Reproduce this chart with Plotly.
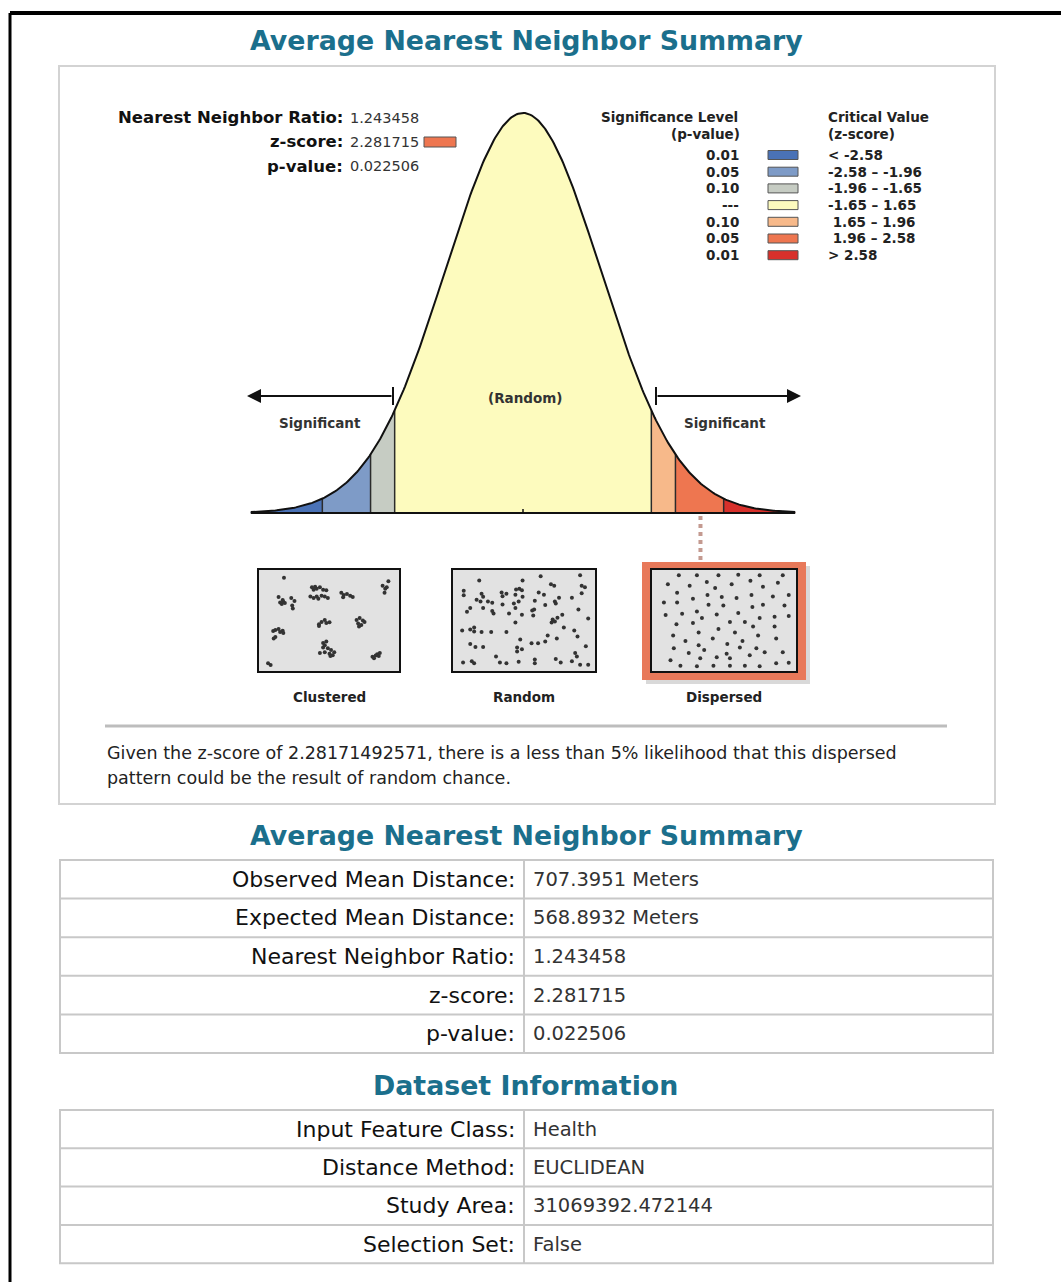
import numpy as np
import plotly.graph_objects as go

W, H = 1061, 1282
FONT = "DejaVu Sans"

# ---------------- data ----------------
critical_values = [-2.58, -1.96, -1.65, 1.65, 1.96, 2.58]
band_colors = ["#4a72b6", "#7e9bc7", "#c6ccc3", "#fdfbbe", "#f7b98a", "#ee7650", "#d8302b"]
p_levels = ["0.01", "0.05", "0.10", "---", "0.10", "0.05", "0.01"]
z_ranges = ["< -2.58", "-2.58 – -1.96", "-1.96 – -1.65", "-1.65 – 1.65",
            " 1.65 – 1.96", " 1.96 – 2.58", "> 2.58"]

nn_ratio_text = "1.243458"
z_score = 2.281715
z_score_text = "2.281715"
p_value_text = "0.022506"
summary_sentence = ["Given the z-score of 2.28171492571, there is a less than 5% likelihood that this dispersed",
                    "pattern could be the result of random chance."]

summary_labels = ["Observed Mean Distance:", "Expected Mean Distance:", "Nearest Neighbor Ratio:",
                  "z-score:", "p-value:"]
summary_values = ["707.3951 Meters", "568.8932 Meters", "1.243458", "2.281715", "0.022506"]
dataset_labels = ["Input Feature Class:", "Distance Method:", "Study Area:", "Selection Set:"]
dataset_values = ["Health", "EUCLIDEAN", "31069392.472144", "False"]

pattern_names = ["Clustered", "Random", "Dispersed"]

clustered_x = [14.9, 10.7, 11.9, 13.2, 14.4, 15.6, 13.9, 20.6, 21.3, 21.8, 23.1,
               36.7, 39.2, 38.0, 40.4, 42.9, 45.4, 47.9, 35.5, 38.0, 40.4, 41.7, 44.2, 46.7, 49.1,
               59.6, 61.5, 64.0, 66.5, 68.5, 61.0,
               91.8, 93.8, 95.0, 96.3, 93.3,
               42.2, 44.2, 46.7, 47.9, 50.4, 42.2,
               71.5, 73.9, 76.4, 72.7, 75.2, 73.4, 77.7,
               6.5, 8.2, 10.7, 11.9, 13.9, 14.4, 6.9, 8.2,
               45.4, 46.7, 47.9, 45.4, 49.1, 51.6, 54.1, 50.4, 52.9, 42.9, 46.7, 51.1,
               83.9, 85.1, 87.6, 88.8, 89.6, 86.4,
               2.5, 4.5]
clustered_y = [4.2, 24.8, 30.6, 32.3, 30.0, 31.3, 28.1, 25.8, 33.9, 37.1, 29.0,
               14.5, 13.9, 17.1, 16.1, 14.5, 17.1, 17.7, 24.2, 25.8, 24.2, 26.8, 23.5, 24.2, 25.8,
               20.3, 22.6, 21.6, 23.5, 24.8, 25.2,
               12.9, 16.1, 14.5, 8.1, 20.3,
               53.9, 51.6, 49.4, 52.6, 51.9, 55.8,
               49.4, 47.4, 50.0, 53.2, 54.8, 56.5, 51.6,
               61.3, 60.3, 59.0, 62.3, 61.0, 63.5, 69.4, 67.7,
               74.2, 76.5, 72.6, 79.0, 79.7, 81.6, 83.9, 85.5, 87.1, 84.8, 83.9, 88.1,
               88.7, 90.3, 86.1, 88.1, 84.8, 87.4,
               95.8, 97.7]

random_x = [15.6, 48.9, 62.8, 93.1, 70.7, 73.2, 94.3, 96.8,
            3.7, 3.7, 17.4, 18.6, 32.8, 36.5, 33.5, 43.9, 46.4, 48.4, 43.4, 48.9, 61.3, 65.3, 86.8, 94.3,
            13.6, 16.6, 22.3, 25.6, 33.5, 42.2, 45.9, 43.4, 58.3, 66.3, 73.7, 74.4, 76.9, 8.7, 18.6,
            6.2, 25.6, 26.6, 38.5, 48.4, 56.3, 57.8, 57.1, 72.0, 75.7, 79.4, 91.8, 99.3,
            43.4, 71.2, 73.7, 80.6, 88.6, 2.5, 8.7, 11.7, 11.7, 17.4, 24.8, 36.5, 68.2, 91.1,
            47.1, 8.7, 12.7, 18.6, 44.7, 48.4, 44.7, 55.8, 60.8, 66.3, 75.2, 97.5,
            28.5, 58.3, 74.4, 89.3, 90.6, 3.2, 9.9, 11.7, 31.5, 36.5, 45.9, 58.3, 78.2, 86.8, 93.1, 99.3]
random_y = [7.3, 7.3, 2.6, 1.6, 11.2, 12.8, 12.8, 14.4,
            18.2, 23.0, 21.4, 24.6, 20.1, 21.4, 24.0, 16.9, 16.0, 17.6, 22.4, 24.6, 20.1, 22.4, 25.6, 20.8,
            27.8, 29.7, 29.7, 31.0, 32.9, 31.9, 29.7, 36.7, 28.8, 33.5, 29.7, 31.9, 25.6, 36.7, 36.7,
            40.6, 39.9, 42.5, 42.5, 43.8, 39.3, 38.3, 44.7, 48.9, 47.0, 43.8, 38.3, 47.9,
            52.1, 52.1, 51.1, 57.5, 60.7, 60.7, 59.7, 57.5, 61.7, 62.3, 62.3, 62.3, 66.1, 67.1,
            70.3, 75.1, 78.3, 78.3, 78.9, 80.8, 83.1, 74.4, 74.4, 72.5, 69.3, 77.6,
            88.5, 91.7, 91.1, 84.7, 88.5, 94.9, 93.6, 95.8, 94.9, 95.8, 94.2, 95.8, 94.9, 93.6, 97.4, 97.4]

dispersed_x = [15.8, 29.5, 45.8, 60.8, 77.0, 94.5,
               7.5, 24.0, 37.0, 43.3, 55.8, 70.0, 79.5, 90.8,
               14.5, 26.5, 37.5, 48.3, 59.5, 70.8, 87.0, 99.0,
               4.5, 14.5, 29.5, 38.3, 49.5, 60.8, 71.5, 79.5, 95.8,
               5.8, 18.3, 33.3, 44.5, 54.5, 65.8, 77.0, 88.3, 99.0,
               14.0, 26.5, 45.8, 58.3, 72.0, 88.3, 11.5,
               20.8, 30.8, 30.8, 41.5, 52.5, 64.0, 75.8, 89.5, 62.0,
               12.0, 23.3, 35.0, 44.5, 74.5, 80.8, 94.5, 69.5, 52.0,
               9.5, 32.0, 54.5, 17.0, 29.5, 42.0, 54.5, 65.8, 77.0, 89.5, 99.0]
dispersed_y = [1.6, 1.6, 1.6, 1.0, 1.6, 1.6,
               11.3, 12.9, 8.7, 15.2, 11.3, 7.4, 13.9, 9.7,
               20.3, 26.8, 22.6, 24.8, 25.8, 22.6, 24.2, 22.6,
               30.6, 30.6, 40.3, 33.2, 33.9, 41.9, 35.5, 33.2, 33.9,
               44.2, 42.9, 47.4, 43.5, 51.6, 51.6, 47.4, 46.1, 45.2,
               53.9, 52.6, 59.0, 62.9, 56.5, 56.5, 66.1,
               71.9, 62.9, 76.5, 69.4, 75.2, 71.9, 66.1, 69.4, 79.0,
               79.7, 84.8, 81.6, 89.4, 79.7, 83.9, 83.9, 87.1, 85.5,
               92.6, 90.3, 90.3, 98.4, 99.0, 98.4, 98.4, 98.4, 99.0, 95.8, 95.2]


# ---------------- helpers ----------------
def X(p):
    return p / W


def Y(p):
    return 1 - p / H


annotations = []
shapes = []


def txt(x, y, s, size, bold=False, anchor="left", color="#1a1a1a", family=FONT, yanchor="middle"):
    annotations.append(dict(x=X(x), y=Y(y), xref="paper", yref="paper", text=s, showarrow=False,
                            xanchor=anchor, yanchor=yanchor,
                            font=dict(family=family, size=size, color=color,
                                      weight=700 if bold else 400)))


def rect(x0, y0, x1, y1, fill=None, line="#000", width=1, layer="below"):
    shapes.append(dict(type="rect", xref="paper", yref="paper", x0=X(x0), x1=X(x1), y0=Y(y0), y1=Y(y1),
                       fillcolor=fill if fill else "rgba(0,0,0,0)",
                       line=dict(color=line, width=width) if width else dict(width=0),
                       layer=layer))


def hline(x0, x1, y, color, width, layer="below"):
    shapes.append(dict(type="line", xref="paper", yref="paper", x0=X(x0), x1=X(x1), y0=Y(y), y1=Y(y),
                       line=dict(color=color, width=width), layer=layer))


def vline(x, y0, y1, color, width, layer="above"):
    shapes.append(dict(type="line", xref="paper", yref="paper", x0=X(x), x1=X(x), y0=Y(y0), y1=Y(y1),
                       line=dict(color=color, width=width), layer=layer))


fig = go.Figure()

# ---------------- outer frame ----------------
hline(10, 1061, 13, "#000", 4, layer="above")
vline(10, 13, 1282, "#000", 3)

TEAL = "#1b6f8c"

# ---------------- panel 1 ----------------
txt(526, 41, "Average Nearest Neighbor Summary", 26.8, bold=True, anchor="center", color=TEAL)
rect(59, 66, 995, 804, fill="#ffffff", line="#d3d3d3", width=2)

# stats block
LBL = 16.5
VAL = 14.5
txt(345, 118, "Nearest Neighbor Ratio:", LBL, bold=True, anchor="right", color="#111")
txt(348, 118, nn_ratio_text, VAL, anchor="left", color="#333")
txt(345, 142, "z-score:", LBL, bold=True, anchor="right", color="#111")
txt(348, 142, z_score_text, VAL, anchor="left", color="#333")
txt(345, 166, "p-value:", LBL, bold=True, anchor="right", color="#111")
txt(348, 166, p_value_text, VAL, anchor="left", color="#333")
z_band = int(np.searchsorted(critical_values, z_score))
rect(424, 137, 456, 147, fill=band_colors[z_band], line="#555", width=1, layer="above")

# legend
LG = 13.5
txt(740, 117, "Significance Level", LG, bold=True, anchor="right", color="#222")
txt(742, 134, "(p-value)", LG, bold=True, anchor="right", color="#222")
txt(826, 117, "Critical Value", LG, bold=True, anchor="left", color="#222")
txt(826, 134, "(z-score)", LG, bold=True, anchor="left", color="#222")
for i, (pl, zr, col) in enumerate(zip(p_levels, z_ranges, band_colors)):
    yy = 155 + i * 16.7
    txt(741, yy, pl, LG, bold=True, anchor="right", color="#222")
    rect(768, yy - 4.5, 798, yy + 4.5, fill=col, line="#555", width=1, layer="above")
    txt(826, yy, zr, LG, bold=True, anchor="left", color="#222")

# ---------------- bell curve ----------------
def pdf(z):
    return np.exp(-0.5 * np.asarray(z) ** 2) / np.sqrt(2 * np.pi)


zmin, zmax = -3.5, 3.5
edges = [zmin] + critical_values + [zmax]
for a, b, col in zip(edges[:-1], edges[1:], band_colors):
    zz = np.linspace(a, b, 80)
    xs = list(zz) + [b, a]
    ys = list(pdf(zz)) + [0, 0]
    fig.add_trace(go.Scatter(x=xs, y=ys, fill="toself", fillcolor=col, mode="lines",
                             line=dict(width=0), hoverinfo="skip", showlegend=False,
                             xaxis="x", yaxis="y"))
for cv in critical_values:
    fig.add_trace(go.Scatter(x=[cv, cv], y=[0, float(pdf(cv))], mode="lines",
                             line=dict(color="#2b2b2b", width=1.5), hoverinfo="skip",
                             showlegend=False, xaxis="x", yaxis="y"))
zc = np.linspace(zmin, zmax, 400)
fig.add_trace(go.Scatter(x=zc, y=pdf(zc), mode="lines", line=dict(color="#111", width=2),
                         hoverinfo="skip", showlegend=False, xaxis="x", yaxis="y"))
fig.add_trace(go.Scatter(x=[zmin, zmax], y=[0, 0], mode="lines", line=dict(color="#111", width=2),
                         hoverinfo="skip", showlegend=False, xaxis="x", yaxis="y"))
fig.add_trace(go.Scatter(x=[0, 0], y=[0, 0.004], mode="lines", line=dict(color="#111", width=1.5),
                         hoverinfo="skip", showlegend=False, xaxis="x", yaxis="y"))

# dotted connector from the z-score to the pattern
shapes.append(dict(type="line", xref="x", yref="paper", x0=z_score, x1=z_score, y0=Y(516), y1=Y(562),
                   line=dict(color="#c49a90", width=4, dash="dot"), layer="above"))

# arrows & labels
annotations.append(dict(x=X(247), y=Y(396), xref="paper", yref="paper", text="", showarrow=True,
                        ax=146, ay=0, axref="pixel", ayref="pixel", arrowhead=2, arrowsize=1.4,
                        arrowwidth=2, arrowcolor="#111"))
annotations.append(dict(x=X(801), y=Y(396), xref="paper", yref="paper", text="", showarrow=True,
                        ax=-145, ay=0, axref="pixel", ayref="pixel", arrowhead=2, arrowsize=1.4,
                        arrowwidth=2, arrowcolor="#111"))
vline(393, 387, 405, "#111", 2)
vline(656, 387, 405, "#111", 2)
txt(525, 398, "(Random)", 13.5, bold=True, anchor="center", color="#333")
txt(320, 423, "Significant", 13.5, bold=True, anchor="center", color="#333")
txt(725, 423, "Significant", 13.5, bold=True, anchor="center", color="#333")

# ---------------- pattern boxes ----------------
rect(646, 566, 810, 684, fill="#d9d9d9", width=0)
rect(642, 562, 806, 680, fill="#e8795a", width=0)
boxes = [(258, 400), (452, 596), (651, 797)]
for (x0, x1) in boxes:
    rect(x0, 569, x1, 672, fill="#e2e2e2", line="#111", width=2)
for (x0, x1), name in zip(boxes, pattern_names):
    txt((x0 + x1) / 2, 697, name, 13.5, bold=True, anchor="center", color="#222")

dot_sets = [(clustered_x, clustered_y), (random_x, random_y), (dispersed_x, dispersed_y)]
for k, ((x0, x1), (dx, dy)) in enumerate(zip(boxes, dot_sets)):
    ax_id = str(k + 2)
    fig.add_trace(go.Scatter(x=dx, y=dy, mode="markers",
                             marker=dict(size=4, color="#333"),
                             hoverinfo="skip", showlegend=False,
                             xaxis="x" + ax_id, yaxis="y" + ax_id))

# ---------------- sentence ----------------
hline(105, 947, 726, "#bdbdbd", 3)
txt(105, 753, summary_sentence[0], 17.5, anchor="left", color="#222")
txt(105, 778, summary_sentence[1], 17.5, anchor="left", color="#222")


# ---------------- tables ----------------
def table(top, row_h, labels, values):
    n = len(labels)
    bottom = top + n * row_h
    for i in range(1, n):
        hline(60, 993, top + i * row_h, "#c8c8c8", 2)
    vline(524, top, bottom, "#c8c8c8", 2, layer="below")
    rect(60, top, 993, bottom, line="#c8c8c8", width=2)
    for i, (lab, val) in enumerate(zip(labels, values)):
        yc = top + (i + 0.5) * row_h
        txt(517, yc, lab, 22, anchor="right", color="#111")
        txt(531, yc, val, 19.5, anchor="left", color="#333")


txt(526, 836, "Average Nearest Neighbor Summary", 26.8, bold=True, anchor="center", color=TEAL)
table(860, 38.6, summary_labels, summary_values)
txt(525, 1085, "Dataset Information", 26.8, bold=True, anchor="center", color=TEAL)
table(1110, 38.3, dataset_labels, dataset_values)

# ---------------- layout ----------------
hidden = dict(visible=False, fixedrange=True)
fig.update_layout(
    width=W, height=H, margin=dict(l=0, r=0, t=0, b=0),
    paper_bgcolor="white", plot_bgcolor="rgba(0,0,0,0)",
    showlegend=False,
    xaxis=dict(domain=[X(243), X(803)], range=[-3.6, 3.6], **hidden),
    yaxis=dict(domain=[Y(517), Y(106.9)], range=[-0.004, 0.405], **hidden),
    xaxis2=dict(domain=[X(261), X(397)], range=[-3, 103], **hidden),
    yaxis2=dict(domain=[Y(670), Y(571)], range=[103, -3], **hidden),
    xaxis3=dict(domain=[X(455), X(593)], range=[-3, 103], **hidden),
    yaxis3=dict(domain=[Y(670), Y(571)], range=[103, -3], **hidden),
    xaxis4=dict(domain=[X(654), X(794)], range=[-3, 103], **hidden),
    yaxis4=dict(domain=[Y(670), Y(571)], range=[103, -3], **hidden),
    shapes=shapes, annotations=annotations,
)

fig.write_html("out.html", config={"displayModeBar": False},
               post_script="document.body.style.margin='0px';document.body.style.overflow='hidden';")
